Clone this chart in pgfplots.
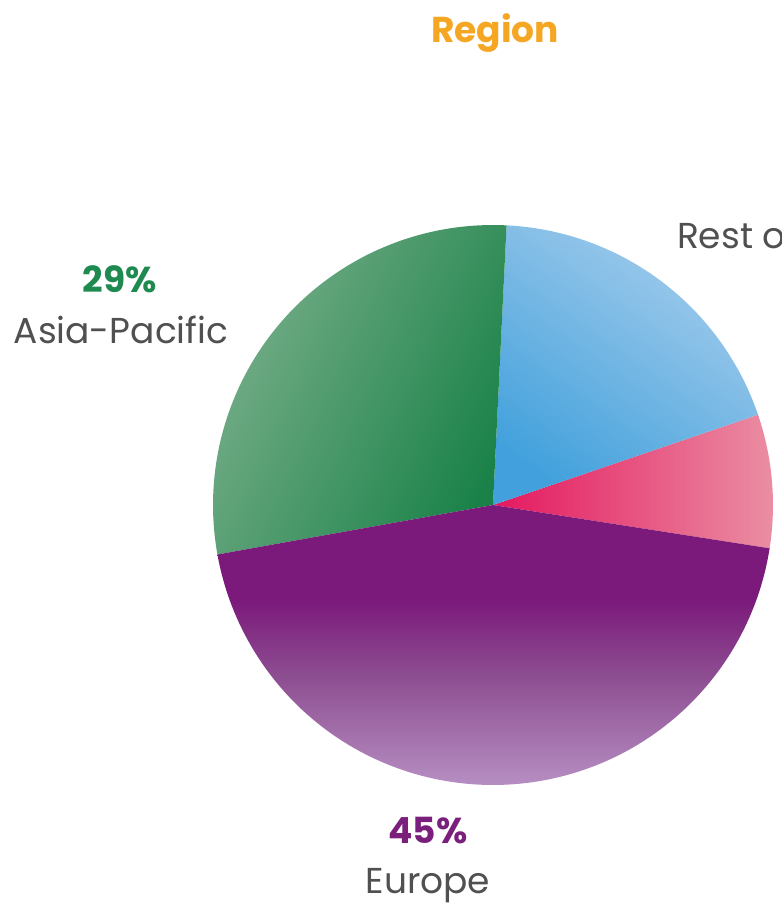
\documentclass[border=0pt]{standalone}
\usepackage{pgfplots}
\pgfplotsset{compat=1.18}
\usepackage{fontspec}
\setmainfont{Poppins}
\definecolor{regionor}{HTML}{F5A623}
\definecolor{labgrey}{HTML}{505050}
\definecolor{pctgreen}{HTML}{1E8A50}
\definecolor{pctpurple}{HTML}{7B1F7D}
\definecolor{pctblue}{HTML}{4AA3DC}
\definecolor{greenL}{HTML}{78AE8A}
\definecolor{greenD}{HTML}{1A8248}
\definecolor{blueL}{HTML}{A4CCEC}
\definecolor{blueD}{HTML}{42A1DC}
\definecolor{pinkD}{HTML}{E4185F}
\definecolor{pinkL}{HTML}{EA8EA3}
\definecolor{purD}{HTML}{7B1A7B}
\definecolor{purM}{HTML}{8E4F92}
\definecolor{purL}{HTML}{B68EC2}
\pgfdeclareverticalshading{purshade}{100bp}{color(0bp)=(purL); color(25bp)=(purL); color(44bp)=(purM); color(58bp)=(purD); color(100bp)=(purD)}
\begin{document}
\begin{tikzpicture}
\path[use as bounding box] (0,0) rectangle (391pt,-453.5pt);
\clip (0,0) rectangle (391pt,-453.5pt);
% slice shares in percent
\def\vPink{7.7}\def\vBlue{19.0}\def\vGreen{28.6}\def\vEurope{44.7}
\pgfmathsetmacro\aA{-8.9}
\pgfmathsetmacro\aB{\aA+3.6*\vPink}
\pgfmathsetmacro\aC{\aB+3.6*\vBlue}
\pgfmathsetmacro\aD{\aC+3.6*\vGreen}
\pgfmathsetmacro\aE{\aD+3.6*\vEurope}
\begin{axis}[
  scale only axis, width=280pt, height=280pt,
  xmin=-1, xmax=1, ymin=-1, ymax=1,
  hide axis, clip=false,
  anchor=center, at={(246.5pt,-252.5pt)},
]
\addplot[draw=none, left color=pinkD, right color=pinkL, domain=\aA:\aB, samples=40, variable=\t]
  ({cos(\t)},{sin(\t)}) -- (axis cs:0,0) -- cycle;
\addplot[draw=none, top color=blueL, bottom color=blueD, shading angle=-35, domain=\aB:\aC, samples=60, variable=\t]
  ({cos(\t)},{sin(\t)}) -- (axis cs:0,0) -- cycle;
\addplot[draw=none, top color=greenL, bottom color=greenD, shading angle=65, domain=\aC:\aD, samples=80, variable=\t]
  ({cos(\t)},{sin(\t)}) -- (axis cs:0,0) -- cycle;
\addplot[draw=none, shading=purshade, domain=\aD:\aE, samples=120, variable=\t]
  ({cos(\t)},{sin(\t)}) -- (axis cs:0,0) -- cycle;
\end{axis}
\node[anchor=base, text=regionor, font=\bfseries\fontsize{18}{18}\selectfont] at (247.5pt,-21pt) {Region};
\node[anchor=base, text=pctgreen, font=\bfseries\fontsize{18}{18}\selectfont] at (60pt,-146pt) {29\%};
\node[anchor=base, text=labgrey, font=\fontsize{18}{18}\selectfont] at (60.5pt,-171.5pt) {Asia-Pacific};
\node[anchor=base, text=pctpurple, font=\bfseries\fontsize{18}{18}\selectfont] at (214pt,-421.5pt) {45\%};
\node[anchor=base, text=labgrey, font=\fontsize{18}{18}\selectfont] at (214pt,-446.5pt) {Europe};
\node[anchor=base, text=pctblue, font=\bfseries\fontsize{18}{18}\selectfont] at (408.5pt,-99.5pt) {19\%};
\node[anchor=base west, text=labgrey, font=\fontsize{18}{18}\selectfont] at (335pt,-124pt) {Rest of World};
\end{tikzpicture}
\end{document}
